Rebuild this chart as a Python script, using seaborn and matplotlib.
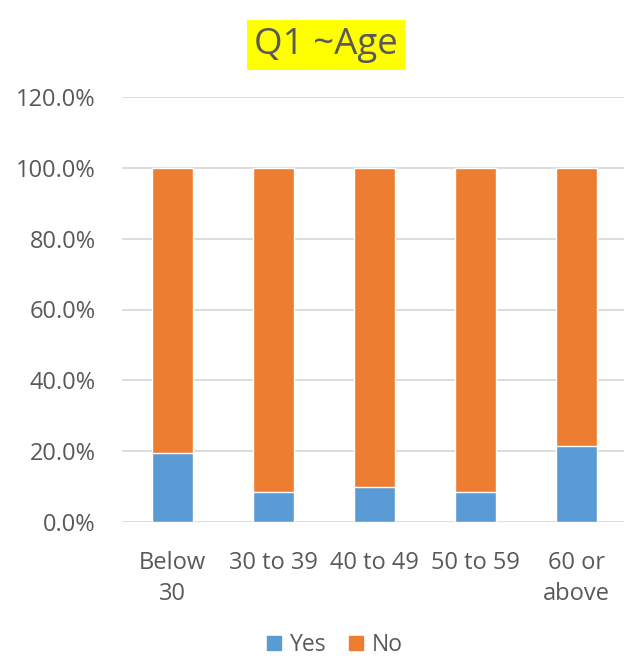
import matplotlib
matplotlib.use("Agg")
import matplotlib.pyplot as plt
import matplotlib.patches as mpatches
from matplotlib.ticker import FuncFormatter, MultipleLocator
import seaborn as sns
import pandas as pd

categories = ["Below\n30", "30 to 39", "40 to 49", "50 to 59", "60 or\nabove"]
yes_pct = [19.6, 8.5, 9.8, 8.5, 21.4]
no_pct = [80.4, 91.5, 90.2, 91.5, 78.6]

BLUE = "#5B9BD5"
ORANGE = "#ED7D31"
TEXT = "#595959"
GRID = "#D9D9D9"

sns.set_theme(style="white")
plt.rcParams["font.family"] = ["Open Sans", "DejaVu Sans"]

df = pd.DataFrame({"group": categories, "Yes": yes_pct, "No": no_pct})
df["total"] = df["Yes"] + df["No"]

fig = plt.figure(figsize=(6.24, 6.59), dpi=100)
ax = fig.add_axes([122 / 624, 137 / 659, 505 / 624, 425 / 659])

# stacked bars: full height in orange, the Yes share drawn over it in blue
sns.barplot(data=df, x="group", y="total", color=ORANGE, width=0.4,
            saturation=1, ax=ax, zorder=3)
sns.barplot(data=df, x="group", y="Yes", color=BLUE, width=0.4,
            saturation=1, ax=ax, zorder=4)

ax.set_xlim(-0.5, 4.5)
ax.set_ylim(0, 120)
ax.yaxis.set_major_locator(MultipleLocator(20))
ax.yaxis.set_major_formatter(FuncFormatter(lambda v, _: f"{v:.1f}%"))
ax.grid(axis="y", color=GRID, linewidth=1.3, zorder=0)
ax.set_axisbelow(True)
for s in ax.spines.values():
    s.set_visible(False)
ax.set_xlabel("")
ax.set_ylabel("")
ax.tick_params(axis="both", length=0, labelsize=17, colors=TEXT)
ax.tick_params(axis="y", pad=19)
ax.tick_params(axis="x", pad=21)
for lbl in ax.get_xticklabels():
    lbl.set_linespacing(1.4)

fig.text(326 / 624, 1 - 45 / 659, "Q1 ~Age", ha="center", va="center",
         fontsize=26.5, color=TEXT,
         bbox=dict(boxstyle="square,pad=0.2", facecolor="#FFFF00",
                   edgecolor="none"))

handles = [mpatches.Patch(color=BLUE, label="Yes"),
           mpatches.Patch(color=ORANGE, label="No")]
fig.legend(handles=handles, loc="center",
           bbox_to_anchor=(335 / 624, 1 - 645 / 659),
           ncol=2, frameon=False, fontsize=16.5, labelcolor=TEXT,
           handlelength=0.6, handleheight=0.6, handletextpad=0.4,
           columnspacing=1.0, borderpad=0)

fig.savefig("out.png", dpi=100)
